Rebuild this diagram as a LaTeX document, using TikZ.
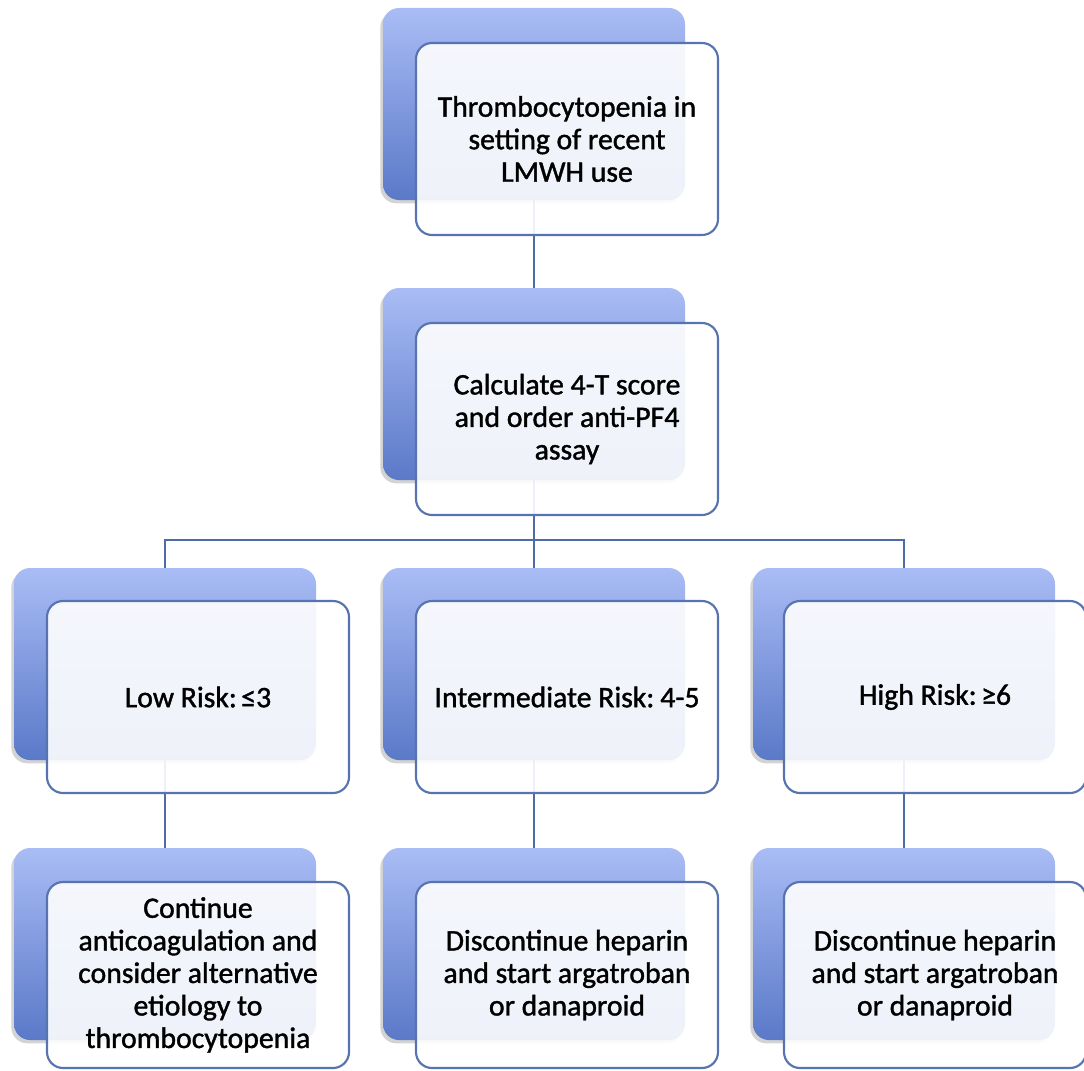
\documentclass[tikz,border=0pt]{standalone}
\usepackage{fontspec}
\setmainfont{Carlito}
\newfontfamily\boxfont{Carlito}[FakeBold=1.3]
\usetikzlibrary{shadows}
\definecolor{backtop}{HTML}{A9BCF5}
\definecolor{backbot}{HTML}{5A79C8}
\definecolor{frameblue}{HTML}{5773B0}
\definecolor{linkblue}{HTML}{4C6BA8}
\begin{document}
\begin{tikzpicture}[x=0.75pt,y=-0.75pt,
  backbox/.style={rectangle, rounded corners=12pt, minimum width=226.5pt, minimum height=144pt,
    top color=backtop, bottom color=backbot,
    drop shadow={shadow xshift=-2pt, shadow yshift=-2.5pt, opacity=0.35}},
  frontbox/.style={rectangle, rounded corners=12pt, minimum width=226.5pt, minimum height=144pt,
    draw=frameblue, line width=1.6pt, fill=white, fill opacity=0.9, text opacity=1,
    align=center, inner sep=0pt, font=\boxfont\fontsize{22.3}{24.4}\selectfont},
  link/.style={draw=linkblue, line width=1.5pt}]
\useasboundingbox (0,0) rectangle (1084,1070);
% back boxes
\node[backbox] (b1) at (534,104) {};
\node[backbox] (b2) at (534,384) {};
\node[backbox] (b3l) at (165,664) {};
\node[backbox] (b3m) at (534,664) {};
\node[backbox] (b3r) at (904,664) {};
\node[backbox] (b4l) at (165,944) {};
\node[backbox] (b4m) at (534,944) {};
\node[backbox] (b4r) at (904,944) {};
% connectors
\coordinate (split) at (534,540);
\draw[link] (b1.south) -- (b2.north);
\draw[link] (b2.south) -- (split);
\draw[link] (split) -| (b3l.north);
\draw[link] (split) -- (b3m.north);
\draw[link] (split) -| (b3r.north);
\draw[link] (b3l.south) -- (b4l.north);
\draw[link] (b3m.south) -- (b4m.north);
\draw[link] (b3r.south) -- (b4r.north);
% front boxes
\node[frontbox] (f1) at (567,139) {Thrombocytopenia in\\setting of recent\\LMWH use};
\node[frontbox] (f2) at (567,419) {Calculate 4-T score\\and order anti-PF4\\assay};
\node[frontbox] (f3l) at (198,697) {Low Risk:\kern-0.15em{} ≤3};
\node[frontbox] (f3m) at (567,697) {Intermediate Risk:\kern-0.1em{} 4-5};
\node[frontbox] (f3r) at (935,697) {High Risk:\kern-0.15em{} ≥6};
\node[frontbox, minimum height=139.5pt] (f4l) at (198,975) {Continue\\anticoagulation and\\consider alternative\\etiology to\\thrombocytopenia};
\node[frontbox, minimum height=139.5pt] (f4m) at (567,975) {Discontinue heparin\\and start argatroban\\or danaproid};
\node[frontbox, minimum height=139.5pt] (f4r) at (935,975) {Discontinue heparin\\and start argatroban\\or danaproid};
\end{tikzpicture}
\end{document}
